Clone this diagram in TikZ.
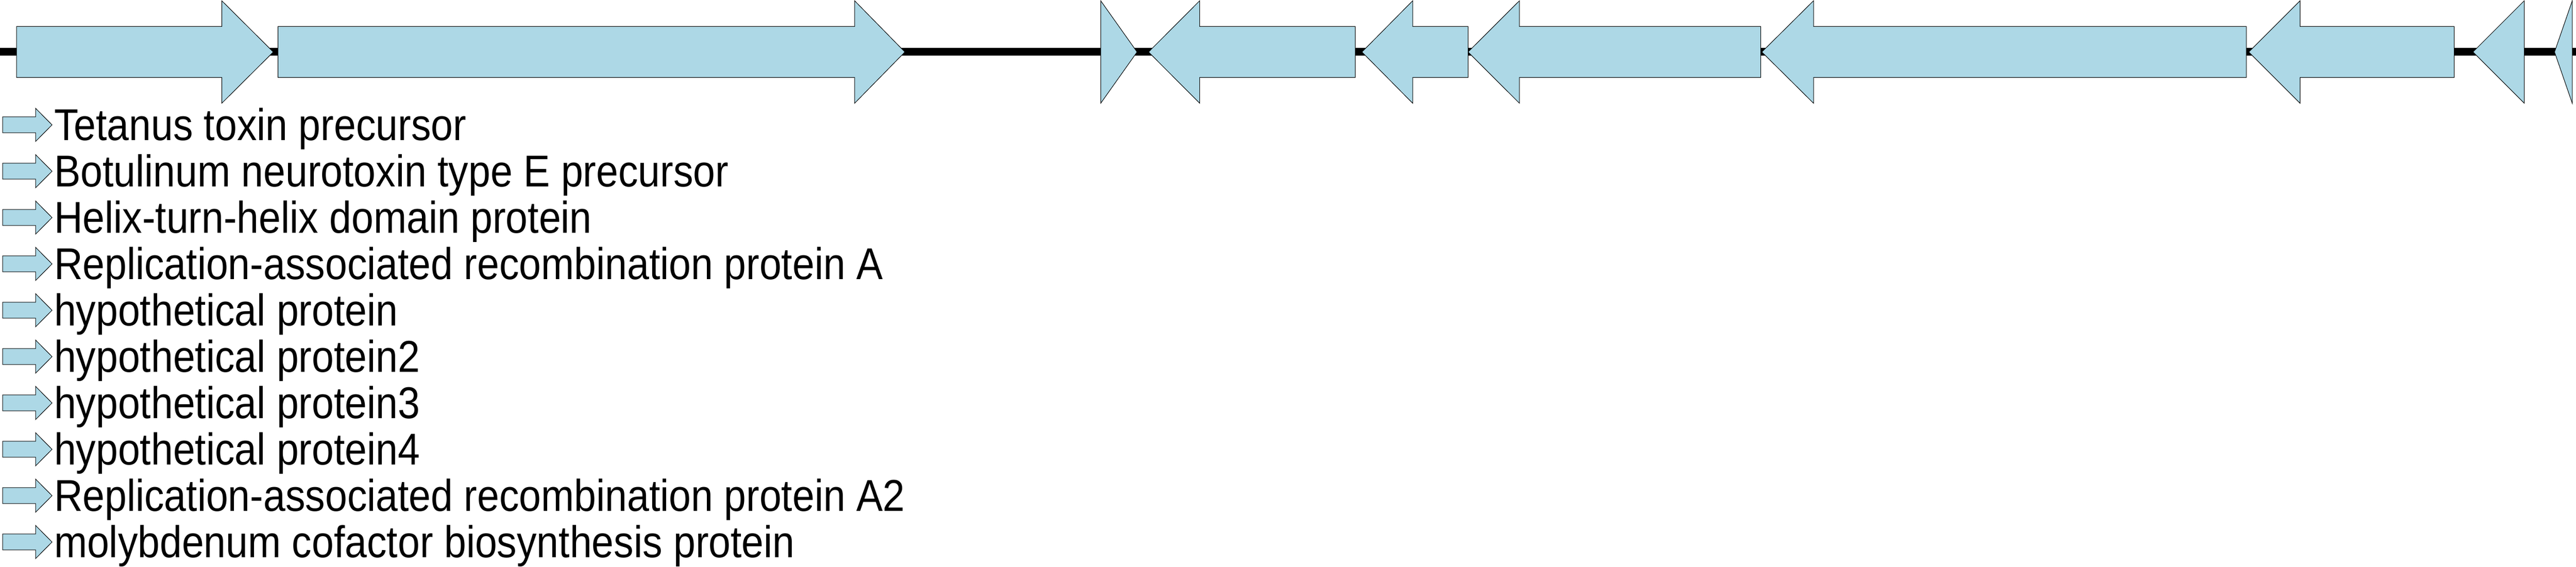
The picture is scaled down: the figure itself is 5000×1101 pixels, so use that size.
\documentclass[tikz,border=0pt]{standalone}
\usepackage{fontspec}
\setmainfont{Liberation Sans}[FakeStretch=0.89]
\definecolor{genefill}{HTML}{ADD8E6}
\newcommand\GeneRight[3]{\draw[gene] (#1,51.5) -- (#2,51.5) -- (#2,1.5) -- (#3,101) -- (#2,200.5) -- (#2,150.5) -- (#1,150.5) -- cycle;}
\newcommand\GeneLeft[3]{\draw[gene] (#3,51.5) -- (#2,51.5) -- (#2,1.5) -- (#1,101) -- (#2,200.5) -- (#2,150.5) -- (#3,150.5) -- cycle;}
\newcommand\GeneHead[2]{\draw[gene] (#1,1.5) -- (#2,101) -- (#1,200.5) -- cycle;}
\begin{document}
\begin{tikzpicture}[x=0.2pt,y=-0.2pt,
  gene/.style={fill=genefill,draw=black,line width=0.2pt,line join=miter},
  backbone/.style={line width=3pt,draw=black},
  legtext/.style={anchor=base west,inner sep=0pt,font=\fontsize{17.3pt}{20pt}\selectfont}]
\useasboundingbox (0,0) rectangle (5000,1101);
\draw[backbone] (0,100.8) -- (5000,100.8);
% forward genes: start, head base, tip
\GeneRight{32}{430.5}{530.4}
\GeneRight{539.5}{1658.8}{1756.4}
\GeneHead{2136.5}{2207}
% reverse genes: tip, head base, end
\GeneLeft{2229.3}{2328.5}{2630.5}
\GeneLeft{2643.5}{2742}{2849.5}
\GeneLeft{2849.5}{2949.2}{3417.5}
\GeneLeft{3419.7}{3520}{4360}
\GeneLeft{4364.8}{4464.3}{4763.5}
\GeneHead{4899.5}{4800}
\GeneHead{4992.7}{4958.3}
% legend
\foreach \lab [count=\i from 0] in {Tetanus toxin precursor,Botulinum neurotoxin type E precursor,Helix-turn-helix domain protein,Replication-associated recombination protein A,hypothetical protein,hypothetical protein2,hypothetical protein3,hypothetical protein4,Replication-associated recombination protein A2,molybdenum cofactor biosynthesis protein}{
  \pgfmathsetmacro\c{242.5+90*\i}
  \draw[gene] (5,\c-15.5) -- (69,\c-15.5) -- (69,\c-32.3) -- (101,\c) -- (69,\c+32.3) -- (69,\c+15.5) -- (5,\c+15.5) -- cycle;
  \node[legtext] (leg\i) at (104,\c+29.8) {\lab};
}
\end{tikzpicture}
\end{document}
